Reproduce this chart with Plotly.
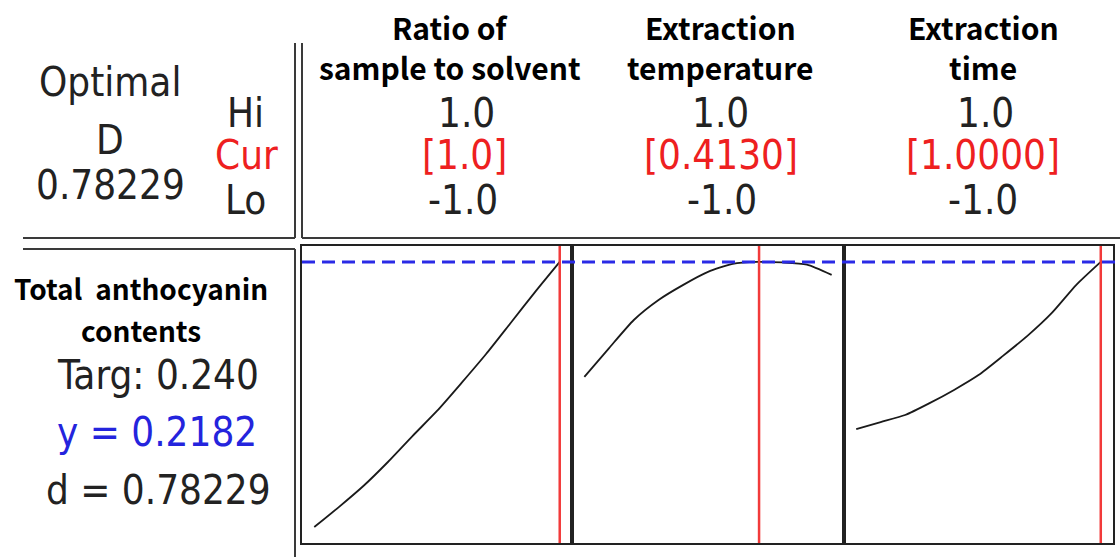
import plotly.graph_objects as go

W, H = 1120, 557

# ---- data ----
factors = ["Ratio of<br>sample to solvent", "Extraction<br>temperature", "Extraction<br>time"]
hi_labels = ["1.0", "1.0", "1.0"]
cur_labels = ["[1.0]", "[0.4130]", "[1.0000]"]
lo_labels = ["-1.0", "-1.0", "-1.0"]
cur_values = [1.0, 0.4130, 1.0]

x_grid = [-1.0, -0.8, -0.6, -0.4, -0.2, 0.0, 0.2, 0.4, 0.6, 0.8, 1.0]
y_ratio = [0.1200, 0.1274, 0.1352, 0.1441, 0.1537, 0.1630, 0.1734, 0.1841, 0.1956, 0.2071, 0.2182]
y_temp = [0.1756, 0.1863, 0.1967, 0.2041, 0.2097, 0.2145, 0.2175, 0.2182, 0.2180, 0.2172, 0.2134]
y_time = [0.1563, 0.1589, 0.1615, 0.1659, 0.1708, 0.1763, 0.1834, 0.1908, 0.1993, 0.2097, 0.2182]
curves = [y_ratio, y_temp, y_time]

response_name = "Total  anthocyanin<br>contents"
target_text = "Targ: 0.240"
y_pred = 0.2182
y_text = "y = 0.2182"
d_text = "d = 0.78229"
D_value = "0.78229"

# ---- layout geometry (pixels) ----
def px(x):
    return x / W

def py(y):
    return 1 - y / H

panel_x = [(302, 572), (572, 844), (844, 1113)]
panel_top, panel_bot = 246, 543
xr = [-1.1, 1.1]
yr = [0.1141, 0.2241]

fig = go.Figure()
layout_axes = {}
for i, (x0, x1) in enumerate(panel_x):
    n = "" if i == 0 else str(i + 1)
    layout_axes["xaxis" + n] = dict(domain=[px(x0), px(x1)], range=xr, showgrid=False,
                                    zeroline=False, showticklabels=False, ticks="",
                                    showline=True, mirror=True, linecolor="#222222", linewidth=2,
                                    anchor="y" + n, fixedrange=True)
    layout_axes["yaxis" + n] = dict(domain=[py(panel_bot), py(panel_top)], range=yr, showgrid=False,
                                    zeroline=False, showticklabels=False, ticks="",
                                    showline=True, mirror=True, linecolor="#222222", linewidth=2,
                                    anchor="x" + n, fixedrange=True)
    fig.add_trace(go.Scatter(x=x_grid, y=curves[i], mode="lines",
                             line=dict(color="#1a1a1a", width=1.8, shape="spline", smoothing=0.6),
                             xaxis="x" + n, yaxis="y" + n, showlegend=False, hoverinfo="skip"))

shapes = []
# red current-setting lines
for i, v in enumerate(cur_values):
    n = "" if i == 0 else str(i + 1)
    shapes.append(dict(type="line", xref="x" + n, yref="y" + n + " domain", x0=v, x1=v, y0=0, y1=1,
                       line=dict(color="#f23a3a", width=2.5), layer="above"))
# blue dashed line at predicted y
shapes.append(dict(type="line", xref="paper", yref="y", x0=px(302), x1=px(1116), y0=y_pred, y1=y_pred,
                   line=dict(color="#2a2ae6", width=3, dash="13px,7px"), layer="above"))

grid_col = "#3a3a3a"
def seg(x0, y0, x1, y1, w=2):
    shapes.append(dict(type="line", xref="paper", yref="paper", x0=px(x0), y0=py(y0), x1=px(x1), y1=py(y1),
                       line=dict(color=grid_col, width=w)))

seg(23, 238, 295, 238)
seg(295, 43, 295, 238)
seg(302, 43, 302, 238)
seg(302, 238, 1120, 238)
seg(23, 249, 295, 249)
seg(295, 249, 295, 557)

annotations = []
num_font = "Liberation Sans Narrow, Arial Narrow, DejaVu Sans Condensed, Liberation Sans, sans-serif"
bold_font = "Noto Sans CJK KR, Liberation Sans, Arial, sans-serif"

def txt(s, x, y, size, color="#222222", family=num_font, bold=False):
    if bold:
        s = "<b>" + s + "</b>"
    annotations.append(dict(text=s, x=px(x), y=py(y), xref="paper", yref="paper", showarrow=False,
                            xanchor="center", yanchor="middle",
                            font=dict(size=size, color=color, family=family)))

header_x = [450, 720, 983]
hi_x = [466, 720, 985]
cur_x = [464, 721, 983]
lo_x = [463, 722, 983]
for i in range(3):
    l1, l2 = factors[i].split("<br>")
    txt(l1, header_x[i], 27, 30, color="#000000", family=bold_font, bold=True)
    txt(l2, header_x[i], 67, 30, color="#000000", family=bold_font, bold=True)
    txt(hi_labels[i], hi_x[i], 113, 40)
    txt(cur_labels[i], cur_x[i], 155, 40, color="#ee2020")
    txt(lo_labels[i], lo_x[i], 200, 40)

txt("Optimal", 110, 82, 40)
txt("D", 110, 140, 40)
txt(D_value, 110, 185, 40)
txt("Hi", 245, 113, 40)
txt("Cur", 246, 155, 40, color="#ee2020")
txt("Lo", 245, 200, 40)

r1, r2 = response_name.split("<br>")
txt(r1, 141, 288, 28, color="#000000", family=bold_font, bold=True)
txt(r2, 141, 330, 28, color="#000000", family=bold_font, bold=True)
txt(target_text, 158, 375, 40)
txt(y_text, 157, 432, 40, color="#2424dd")
txt(d_text, 158, 490, 40)

fig.update_layout(width=W, height=H, margin=dict(l=0, r=0, t=0, b=0),
                  paper_bgcolor="white", plot_bgcolor="white",
                  shapes=shapes, annotations=annotations, showlegend=False, **layout_axes)

fig.write_html("out.html", config={"displayModeBar": False})
